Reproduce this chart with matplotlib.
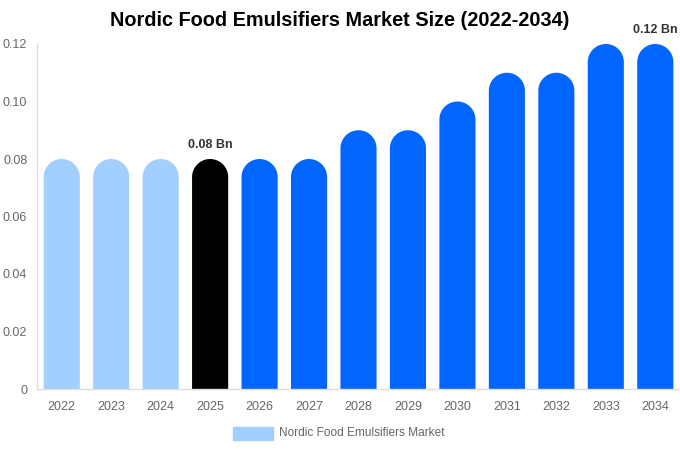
import numpy as np
import matplotlib.pyplot as plt
from matplotlib.patches import Polygon

plt.rcParams['font.family'] = ['Liberation Sans', 'DejaVu Sans']

years = ['2022', '2023', '2024', '2025', '2026', '2027', '2028',
         '2029', '2030', '2031', '2032', '2033', '2034']
values = [0.08, 0.08, 0.08, 0.08, 0.08, 0.08, 0.09,
          0.09, 0.10, 0.11, 0.11, 0.12, 0.12]
colors = ['#a3cfff'] * 3 + ['#000000'] + ['#0066ff'] * 9
yticks = [0, 0.02, 0.04, 0.06, 0.08, 0.10, 0.12]
ytick_labels = ['0', '0.02', '0.04', '0.06', '0.08', '0.10', '0.12']
annotations = {3: '0.08 Bn', 12: '0.12 Bn'}

W, H = 680, 450
fig = plt.figure(figsize=(W / 100, H / 100), dpi=100)
ax_l, ax_b, ax_w, ax_h = 37, 61, 643, 345
ax = fig.add_axes([ax_l / W, ax_b / H, ax_w / W, ax_h / H])

x = np.arange(len(years))
bw = 0.73
xmin, xmax = -0.5, len(years) - 0.5
ymax = 0.12

# radius of the rounded top, converted to y data units
r_px = bw / 2 * ax_w / (xmax - xmin)
r_y = r_px / (ax_h / ymax)

theta = np.linspace(0, np.pi, 60)
for xi, v, c in zip(x, values, colors):
    top = v - r_y
    arc_x = xi + bw / 2 * np.cos(theta)
    arc_y = top + r_y * np.sin(theta)
    px = np.concatenate([[xi + bw / 2], arc_x, [xi - bw / 2]])
    py = np.concatenate([[0], arc_y, [0]])
    ax.add_patch(Polygon(np.column_stack([px, py]), closed=True,
                         facecolor=c, edgecolor='none', linewidth=0))

for i, txt in annotations.items():
    ax.annotate(txt, (x[i], values[i]), xytext=(0, 6), textcoords='offset points',
                ha='center', va='bottom', fontsize=9, fontweight='bold', color='#333333',
                annotation_clip=False)

ax.set_xlim(xmin, xmax)
ax.set_ylim(0, ymax)
ax.set_xticks(x)
ax.set_xticklabels(years)
ax.set_yticks(yticks)
ax.set_yticklabels(ytick_labels)
ax.tick_params(axis='both', length=0, labelsize=9, colors='#666666')
ax.tick_params(axis='x', pad=9)
ax.tick_params(axis='y', pad=7)
for s in ['top', 'right']:
    ax.spines[s].set_visible(False)
for s in ['left', 'bottom']:
    ax.spines[s].set_color('#dddddd')
    ax.spines[s].set_linewidth(1)

fig.text(0.5, 1 - 21 / H, 'Nordic Food Emulsifiers Market Size (2022-2034)',
         ha='center', va='center', fontsize=14.3, fontweight='bold', color='#000000')

# legend
fig.patches.append(plt.Rectangle((233 / W, 1 - 440 / H), 40 / W, 13 / H,
                                 transform=fig.transFigure, color='#a3cfff'))
fig.text(279 / W, 1 - 433 / H, 'Nordic Food Emulsifiers Market', ha='left', va='center',
         fontsize=8.6, color='#666666')

plt.savefig('out.png', dpi=100)
